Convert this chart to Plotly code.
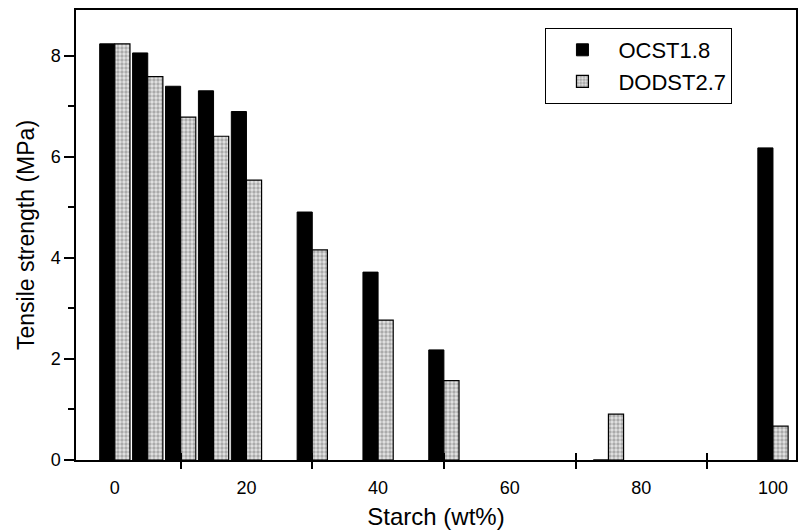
import plotly.graph_objects as go

starch = [0, 5, 10, 15, 20, 30, 40, 50, 75, 100]
ocst = [8.24, 8.06, 7.40, 7.31, 6.90, 4.91, 3.72, 2.18, 0, 6.18]
dodst = [8.24, 7.59, 6.79, 6.41, 5.54, 4.16, 2.77, 1.57, 0.91, 0.67]
xlabel_vals = [0, 20, 40, 60, 80, 100]
xminor_vals = [10, 30, 50, 70, 90]
ytick_vals = [0, 2, 4, 6, 8]

FONT = "Liberation Sans, Arial, Helvetica, sans-serif"
W = 2.3

fig = go.Figure()
fig.add_trace(go.Bar(
    x=starch, y=ocst, name="OCST1.8", width=W, offset=-W,
    marker=dict(color="black", line=dict(color="black", width=1)),
))
fig.add_trace(go.Bar(
    x=starch, y=dodst, name="DODST2.7", width=W, offset=0,
    marker=dict(color="#d0d0d0", line=dict(color="black", width=1.2),
                pattern=dict(shape=".", fgcolor="#707070", bgcolor="#e4e4e4",
                             size=4, solidity=0.55)),
))
# overlay axis for the inward half of the crossing x ticks
fig.add_trace(go.Scatter(x=[None], y=[None], xaxis="x2", showlegend=False, hoverinfo="skip"))

fig.update_layout(
    width=803, height=531,
    margin=dict(l=76, r=5, t=10, b=70),
    plot_bgcolor="white", paper_bgcolor="white",
    font=dict(family=FONT, color="black", size=18),
    barmode="overlay",
    showlegend=True,
    legend=dict(x=0.652, y=0.96, xanchor="left", yanchor="top",
                bordercolor="black", borderwidth=1, bgcolor="white",
                font=dict(family=FONT, size=22), itemwidth=62,
                entrywidth=214, entrywidthmode="pixels",
                tracegroupgap=0),
    xaxis=dict(
        range=[-5.9, 103.5], tickvals=xlabel_vals,
        ticks="outside", ticklen=10, tickcolor="rgba(0,0,0,0)",
        tickfont=dict(size=18),
        minor=dict(tickvals=xminor_vals, ticks="outside", ticklen=7,
                   tickwidth=1.5, tickcolor="black"),
        showline=True, linecolor="black", linewidth=2, mirror=True,
        showgrid=False, zeroline=False,
        title=dict(text="Starch (wt%)", font=dict(size=24), standoff=12),
    ),
    xaxis2=dict(
        overlaying="x", matches="x", anchor="y", side="bottom",
        tickvals=xminor_vals, ticks="inside", ticklen=7, tickwidth=1.5,
        tickcolor="black", showticklabels=False, showgrid=False,
        zeroline=False, showline=False,
    ),
    yaxis=dict(
        range=[0, 8.91], tickvals=ytick_vals,
        ticks="outside", ticklen=10, tickwidth=1.5, tickcolor="black",
        tickfont=dict(size=18),
        minor=dict(dtick=1, tick0=1, ticks="outside", ticklen=6,
                   tickwidth=1.5, tickcolor="black"),
        showline=True, linecolor="black", linewidth=1.5, mirror=True,
        showgrid=False, zeroline=False,
        title=dict(text="Tensile strength (MPa)", font=dict(size=23), standoff=10),
    ),
)

fig.write_html("out.html", config={"displayModeBar": False},
               post_script="document.body.style.margin='0';document.body.style.overflow='hidden';")
